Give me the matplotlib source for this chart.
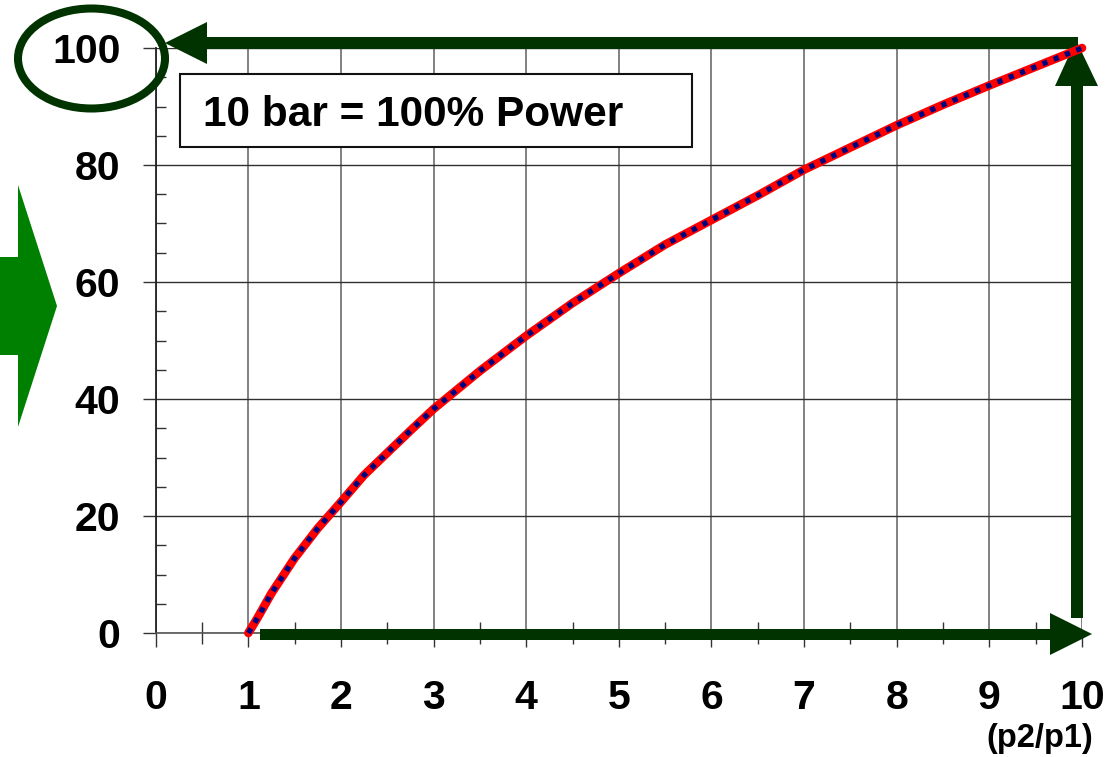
import matplotlib
matplotlib.use("Agg")
import matplotlib.pyplot as plt
from matplotlib.ticker import MultipleLocator
from matplotlib.transforms import Affine2D
from matplotlib.patches import Polygon, Rectangle, Ellipse

# ---- data ----
pressure_ratio = [1.0, 1.1, 1.25, 1.5, 1.75, 2.0, 2.25, 2.5, 2.75, 3.0, 3.5, 4.0,
                  4.5, 5.0, 5.5, 6.0, 6.5, 7.0, 7.5, 8.0, 8.5, 9.0, 9.5, 10.0]
power_pct = [0.0, 2.6, 6.8, 12.8, 17.9, 22.4, 27.0, 30.8, 34.6, 38.3, 44.8, 50.8,
             56.4, 61.5, 66.4, 70.6, 74.8, 79.2, 83.0, 86.8, 90.3, 93.6, 96.8, 100.0]
x_ticks = list(range(0, 11))
y_ticks = [0, 20, 40, 60, 80, 100]
box_text = "10 bar = 100% Power"
x_unit = "(p2/p1)"

W, H = 1117, 757
plt.rcParams['font.family'] = ['Liberation Sans', 'DejaVu Sans']
fig = plt.figure(figsize=(W / 100, H / 100), dpi=100)
ax = fig.add_axes([155.7 / W, 1 - 633 / H, (1082 - 155.7) / W, (633 - 48) / H])
ax.set_xlim(0, 10)
ax.set_ylim(0, 100)

for s in ['top', 'right']:
    ax.spines[s].set_visible(False)
ax.spines['left'].set_color('#222222')
ax.spines['left'].set_linewidth(1.3)
ax.spines['bottom'].set_color('#555555')
ax.spines['bottom'].set_linewidth(1.2)

ax.set_xticks(x_ticks)
ax.set_xticklabels([str(t) for t in x_ticks], fontsize=29.5, fontweight='bold')
ax.set_yticks(y_ticks)
ax.set_yticklabels([str(t) for t in y_ticks], fontsize=29.5, fontweight='bold')
ax.xaxis.set_minor_locator(MultipleLocator(0.5))
ax.yaxis.set_minor_locator(MultipleLocator(5))
ax.tick_params(axis='x', which='major', direction='out', length=10, width=1.0,
               color='#333333', pad=23)
ax.tick_params(axis='x', which='minor', direction='inout', length=16, width=1.0,
               color='#333333')
ax.tick_params(axis='y', which='major', direction='out', length=9.5, width=1.0,
               color='#333333', pad=16)
ax.tick_params(axis='y', which='minor', direction='in', length=7.5, width=1.0,
               color='#333333')

ax.xaxis.grid(True, which='major', color='#777777', lw=1.3)
ax.yaxis.grid(True, which='major', color='#303030', lw=1.0)
ax.set_axisbelow(True)

# curve
ax.plot(pressure_ratio, power_pct, color='#ff0000', lw=6.2, solid_capstyle='round',
        solid_joinstyle='round', clip_on=False, zorder=6)
ax.plot(pressure_ratio, power_pct, color='#000080', lw=3.8,
        linestyle=(0, (1, 1.3)), clip_on=False, zorder=7)

# pixel transform (y down)
px = Affine2D().scale(1 / W, -1 / H).translate(0, 1) + fig.transFigure

dk = '#003300'
def add(p, z=5):
    p.set_transform(px)
    p.set_clip_on(False)
    p.set_zorder(z)
    ax.add_patch(p)

# top arrow (pointing left to 100 label)
add(Rectangle((205, 36.5), 873, 12, facecolor=dk, edgecolor='none'))
add(Polygon([(165, 43), (207, 22), (207, 64)], closed=True, facecolor=dk, edgecolor='none'))
# vertical arrow at x=10
add(Rectangle((1071, 84), 12, 534, facecolor=dk, edgecolor='none'))
add(Polygon([(1076, 40), (1055, 86), (1098, 86)], closed=True, facecolor=dk, edgecolor='none'))
# bottom arrow along the x axis
add(Rectangle((260, 629), 792, 10.5, facecolor=dk, edgecolor='none'))
add(Polygon([(1092, 634), (1050, 613), (1050, 655)], closed=True, facecolor=dk, edgecolor='none'))
# ellipse around 100
add(Ellipse((91.5, 58.5), 147, 100, facecolor='none', edgecolor=dk, lw=5.8))
# big green arrow on the left
add(Polygon([(0, 257), (18, 257), (18, 185), (57, 306), (18, 427), (18, 355), (0, 355)],
            closed=True, facecolor='#008000', edgecolor='none'))

# text box
add(Rectangle((180, 74), 512, 73, facecolor='white', edgecolor='#111111', lw=1.5), z=8)
ax.text(203, 126.5, box_text, transform=px, fontsize=30.5, fontweight='bold',
        ha='left', va='baseline', zorder=9, clip_on=False)

fig.text(1040 / W, 1 - 738 / H, x_unit, fontsize=23.5, fontweight='bold',
         ha='center', va='center')

fig.savefig('out.png', dpi=100)
